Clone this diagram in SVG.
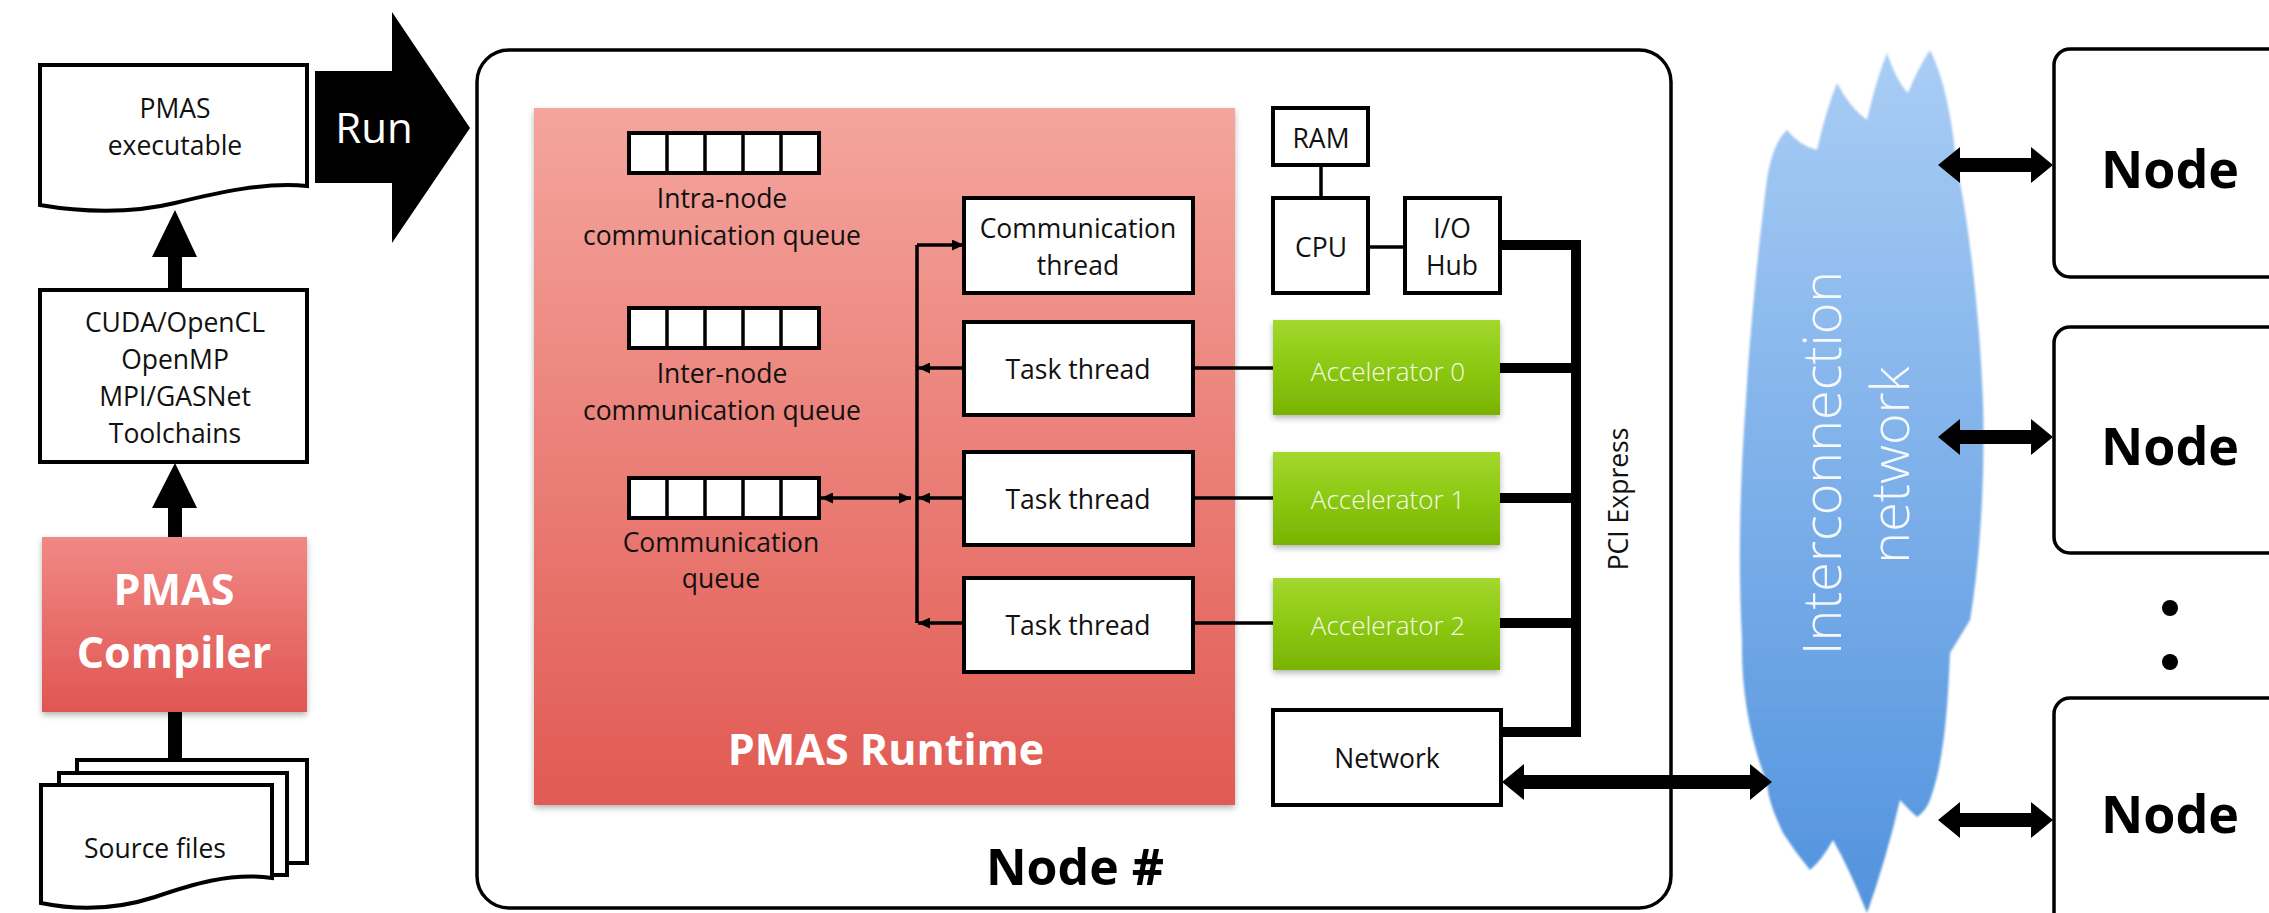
<svg xmlns="http://www.w3.org/2000/svg" width="2269" height="913" viewBox="0 0 2269 913">
  <defs>
    <style>
      .lbl { font-family: "Open Sans", "Liberation Sans", sans-serif; font-size: 26.5px; fill: #111; text-anchor: middle; }
      .bold { font-family: "Open Sans", "Liberation Sans", sans-serif; font-weight: 700; text-anchor: middle; }
      .white { fill: #ffffff; }
      .box { fill: #ffffff; stroke: #000; stroke-width: 4; }
      .thin { fill: none; stroke: #000; stroke-width: 3.5; }
      .thick { fill: none; stroke: #000; stroke-width: 10; }
      .wire { fill: none; stroke: #000; stroke-width: 3.5; }
      .acc { font-family: "Open Sans", "Liberation Sans", sans-serif; font-weight: 300; font-size: 26px; fill: #f6fbea; text-anchor: middle; }
      .cloudtxt { font-family: "Open Sans", "Liberation Sans", sans-serif; font-weight: 300; font-size: 54px; fill: #ffffff; fill-opacity: 0.92; text-anchor: middle; }
    </style>
    <linearGradient id="gRuntime" x1="0" y1="0" x2="0" y2="1">
      <stop offset="0" stop-color="#f4a59d"/>
      <stop offset="1" stop-color="#e15a53"/>
    </linearGradient>
    <linearGradient id="gCompiler" x1="0" y1="0" x2="0" y2="1">
      <stop offset="0" stop-color="#f08884"/>
      <stop offset="1" stop-color="#e05652"/>
    </linearGradient>
    <linearGradient id="gAccel" x1="0" y1="0" x2="0" y2="1">
      <stop offset="0" stop-color="#a3d82e"/>
      <stop offset="0.5" stop-color="#8cc812"/>
      <stop offset="1" stop-color="#79b302"/>
    </linearGradient>
    <linearGradient id="gCloud" x1="0" y1="0" x2="0" y2="1">
      <stop offset="0" stop-color="#a9cdf5"/>
      <stop offset="1" stop-color="#5293de"/>
    </linearGradient>
    <filter id="shadow" x="-5%" y="-5%" width="110%" height="115%">
      <feGaussianBlur in="SourceAlpha" stdDeviation="3"/>
      <feOffset dx="0" dy="3" result="b"/>
      <feComponentTransfer><feFuncA type="linear" slope="0.3"/></feComponentTransfer>
      <feMerge><feMergeNode/><feMergeNode in="SourceGraphic"/></feMerge>
    </filter>
    <filter id="soft" x="-5%" y="-5%" width="110%" height="110%">
      <feGaussianBlur stdDeviation="1.2"/>
    </filter>
    <marker id="tip" markerUnits="userSpaceOnUse" markerWidth="13" markerHeight="11" refX="12" refY="5.5" orient="auto-start-reverse">
      <path d="M0,0 L12,5.5 L0,11 Z" fill="#000"/>
    </marker>
  </defs>

  <rect width="2269" height="913" fill="#ffffff"/>

  <!-- build flow on the left -->
  <g id="executable">
    <path class="box" d="M40,65 H307 V186 C265,182 220,192 175,203 C130,214 80,212 40,205 Z"/>
    <text class="lbl" x="175" y="118">PMAS</text>
    <text class="lbl" x="175" y="155">executable</text>
  </g>

  <g id="run">
    <polygon points="315,71 392,71 392,12 470,128 392,243 392,183 315,183" fill="#000"/>
    <text x="374" y="143" font-family="Open Sans, Liberation Sans, sans-serif" font-size="42" fill="#fff" text-anchor="middle">Run</text>
  </g>

  <g id="toolchains">
    <rect class="box" x="40" y="290" width="267" height="172"/>
    <text class="lbl" x="175" y="332">CUDA/OpenCL</text>
    <text class="lbl" x="175" y="369">OpenMP</text>
    <text class="lbl" x="175" y="406">MPI/GASNet</text>
    <text class="lbl" x="175" y="443">Toolchains</text>
  </g>

  <g id="compiler">
    <rect x="42" y="537" width="265" height="175" fill="url(#gCompiler)" filter="url(#shadow)"/>
    <text class="bold white" x="174" y="605" font-size="43">PMAS</text>
    <text class="bold white" x="174" y="668" font-size="43">Compiler</text>
  </g>

  <g id="source-files">
    <rect class="box" x="77" y="760" width="230" height="103"/>
    <rect class="box" x="59" y="773" width="228" height="102"/>
    <path class="box" d="M41,785 H272 V878 C230,872 190,885 155,897 C115,910 75,910 41,903 Z"/>
    <text class="lbl" x="155" y="858">Source files</text>
  </g>

  <!-- compute node -->
  <g id="node-main">
    <rect x="477" y="50" width="1194" height="858" rx="32" fill="none" stroke="#000" stroke-width="3.5"/>
    <text class="bold" x="1075" y="885" font-size="50" fill="#000">Node #</text>
  </g>

  <g id="runtime">
    <rect x="534" y="108" width="701" height="697" fill="url(#gRuntime)" filter="url(#shadow)"/>
    <text class="bold white" x="886" y="765" font-size="43">PMAS Runtime</text>
  </g>

  <g id="intra-queue">
    <rect class="box" x="629" y="133" width="190" height="40"/>
    <path class="wire" d="M667,133 V173 M705,133 V173 M743,133 V173 M781,133 V173"/>
    <text class="lbl" x="722" y="208">Intra-node</text>
    <text class="lbl" x="722" y="245">communication queue</text>
  </g>

  <g id="inter-queue">
    <rect class="box" x="629" y="308" width="190" height="40"/>
    <path class="wire" d="M667,308 V348 M705,308 V348 M743,308 V348 M781,308 V348"/>
    <text class="lbl" x="722" y="383">Inter-node</text>
    <text class="lbl" x="722" y="420">communication queue</text>
  </g>

  <g id="comm-queue">
    <rect class="box" x="629" y="478" width="190" height="40"/>
    <path class="wire" d="M667,478 V518 M705,478 V518 M743,478 V518 M781,478 V518"/>
    <text class="lbl" x="721" y="552">Communication</text>
    <text class="lbl" x="721" y="588">queue</text>
  </g>

  <g id="comm-thread">
    <rect class="box" x="964" y="198" width="229" height="95"/>
    <text class="lbl" x="1078" y="238">Communication</text>
    <text class="lbl" x="1078" y="275">thread</text>
  </g>

  <g id="task-thread-0">
    <rect class="box" x="964" y="322" width="229" height="93"/>
    <text class="lbl" x="1078" y="379">Task thread</text>
  </g>
  <g id="task-thread-1">
    <rect class="box" x="964" y="452" width="229" height="93"/>
    <text class="lbl" x="1078" y="509">Task thread</text>
  </g>
  <g id="task-thread-2">
    <rect class="box" x="964" y="578" width="229" height="94"/>
    <text class="lbl" x="1078" y="635">Task thread</text>
  </g>

  <g id="ram">
    <rect class="box" x="1273" y="108" width="95" height="57"/>
    <text class="lbl" x="1321" y="148">RAM</text>
  </g>
  <g id="cpu">
    <rect class="box" x="1273" y="198" width="95" height="95"/>
    <text class="lbl" x="1321" y="257">CPU</text>
  </g>
  <g id="io-hub">
    <rect class="box" x="1405" y="198" width="95" height="95"/>
    <text class="lbl" x="1452" y="238">I/O</text>
    <text class="lbl" x="1452" y="275">Hub</text>
  </g>

  <g id="accelerator-0">
    <rect x="1273" y="320" width="227" height="95" fill="url(#gAccel)" filter="url(#shadow)"/>
    <text class="acc" x="1388" y="381">Accelerator 0</text>
  </g>
  <g id="accelerator-1">
    <rect x="1273" y="452" width="227" height="93" fill="url(#gAccel)" filter="url(#shadow)"/>
    <text class="acc" x="1388" y="509">Accelerator 1</text>
  </g>
  <g id="accelerator-2">
    <rect x="1273" y="578" width="227" height="92" fill="url(#gAccel)" filter="url(#shadow)"/>
    <text class="acc" x="1388" y="635">Accelerator 2</text>
  </g>

  <g id="network">
    <rect class="box" x="1273" y="710" width="228" height="95"/>
    <text class="lbl" x="1387" y="768">Network</text>
  </g>

  <text class="lbl" font-size="25" transform="translate(1628,499) rotate(-90)" x="0" y="0">PCI Express</text>

  <!-- interconnection cloud -->
  <g id="interconnect">
    <path filter="url(#soft)" fill="url(#gCloud)" d="M1767,179 C1770,160 1776,140 1787,130 Q1800,146 1817,150 Q1826,110 1837,83 Q1850,108 1867,120 Q1876,80 1887,53 Q1897,82 1908,93 Q1918,68 1930,50 C1945,80 1952,120 1957,167 C1968,220 1978,300 1982,380 C1986,450 1982,550 1970,620 L1950,653 C1948,700 1945,760 1930,800 Q1925,812 1917,817 Q1907,808 1900,800 Q1886,860 1867,913 Q1850,870 1833,840 Q1822,860 1810,870 Q1795,852 1783,833 C1775,815 1768,800 1767,783 C1750,740 1741,690 1742,640 C1738,560 1740,480 1746,400 C1750,330 1758,250 1767,179 Z"/>
    <text class="cloudtxt" x="0" y="0" transform="translate(1841,463) rotate(-90)">Interconnection</text>
    <text class="cloudtxt" x="0" y="0" transform="translate(1909,465) rotate(-90)">network</text>
  </g>

  <!-- other cluster nodes -->
  <g id="node-1">
    <rect x="2054" y="49" width="260" height="228" rx="16" fill="#fff" stroke="#000" stroke-width="3.5"/>
    <text class="bold" x="2170" y="188" font-size="52" fill="#000">Node</text>
  </g>
  <g id="node-2">
    <rect x="2054" y="327" width="260" height="226" rx="16" fill="#fff" stroke="#000" stroke-width="3.5"/>
    <text class="bold" x="2170" y="465" font-size="52" fill="#000">Node</text>
  </g>
  <g id="ellipsis">
    <circle cx="2170" cy="608" r="8" fill="#000"/>
    <circle cx="2170" cy="662" r="8" fill="#000"/>
  </g>
  <g id="node-3">
    <rect x="2054" y="698" width="260" height="260" rx="16" fill="#fff" stroke="#000" stroke-width="3.5"/>
    <text class="bold" x="2170" y="833" font-size="52" fill="#000">Node</text>
  </g>

  <!-- connectors -->
  <g id="connectors">
    <!-- build flow arrows -->
    <polygon points="168,290 168,257 152,257 175,210 197,257 182,257 182,290" fill="#000"/>
    <polygon points="168,537 168,508 152,508 175,463 197,508 182,508 182,537" fill="#000"/>
    <rect x="168" y="712" width="14" height="48" fill="#000"/>

    <!-- runtime thread bus -->
    <path class="thin" d="M917,245 V623"/>
    <path class="thin" d="M917,245 H964" marker-end="url(#tip)"/>
    <path class="thin" d="M964,368 H918" marker-end="url(#tip)"/>
    <path class="thin" d="M964,498 H918" marker-end="url(#tip)"/>
    <path class="thin" d="M964,623 H918" marker-end="url(#tip)"/>
    <path class="thin" d="M911,498 H821" marker-start="url(#tip)" marker-end="url(#tip)"/>

    <!-- task threads to accelerators -->
    <path class="wire" d="M1193,368 H1273 M1193,498 H1273 M1193,623 H1273"/>

    <!-- host links -->
    <path class="wire" d="M1321,165 V198 M1368,247 H1405"/>

    <!-- PCI Express bus -->
    <path class="thick" d="M1500,245 H1576 V732 H1501"/>
    <path class="thick" d="M1500,368 H1576 M1500,498 H1576 M1500,623 H1576"/>

    <!-- network links -->
    <polygon fill="#000" points="1502,782 1524,764 1524,775 1750,775 1750,764 1772,782 1750,800 1750,789 1524,789 1524,800"/>
    <polygon fill="#000" points="1938,165 1960,147 1960,158 2031,158 2031,147 2053,165 2031,183 2031,172 1960,172 1960,183"/>
    <polygon fill="#000" points="1938,437 1960,419 1960,430 2031,430 2031,419 2053,437 2031,455 2031,444 1960,444 1960,455"/>
    <polygon fill="#000" points="1938,820 1960,802 1960,813 2031,813 2031,802 2053,820 2031,838 2031,827 1960,827 1960,838"/>
  </g>
</svg>
